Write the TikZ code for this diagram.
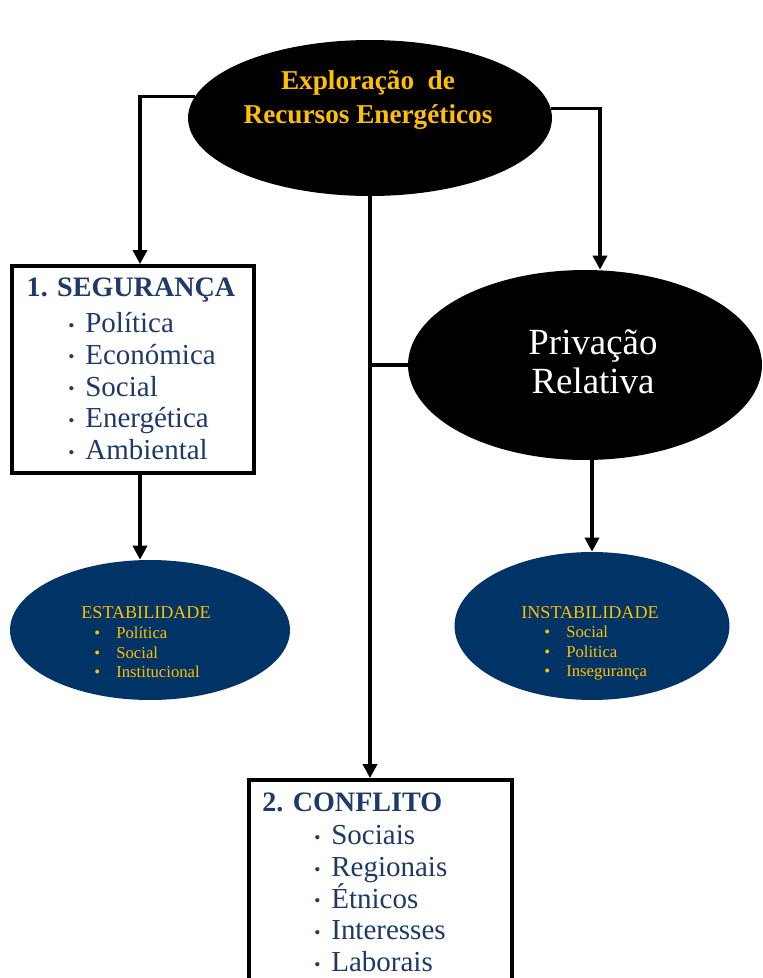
\documentclass[tikz,border=0pt]{standalone}
\usepackage{fontspec}
\setmainfont{Liberation Serif}
\usepackage{xcolor}
\usetikzlibrary{arrows.meta,shapes.geometric}
\definecolor{navy}{HTML}{003366}
\definecolor{navytext}{HTML}{1F3A66}
\definecolor{gold}{HTML}{FFC000}
\newcommand{\bigbul}{\makebox[0.34cm][l]{\raisebox{0.1ex}{\fontsize{10}{10}\selectfont\textbullet}}}
\newcommand{\smallbul}{\makebox[0.44cm][l]{\textbullet}}

\begin{document}
\begin{tikzpicture}[x=0.02cm,y=-0.02cm,
  arr/.style={line width=2.2pt,-{Triangle[length=8pt,width=8pt]}},
  link/.style={line width=2.2pt},
  blackell/.style={ellipse,fill=black,inner sep=0pt},
  navyell/.style={ellipse,fill=navy,inner sep=0pt},
  box/.style={draw,line width=2.2pt,fill=white,inner sep=0pt},
  boxtitle/.style={font=\fontsize{16}{18}\selectfont\bfseries,text=navytext,inner sep=0pt},
  boxlist/.style={font=\fontsize{16.5}{18.1}\selectfont,text=navytext,align=left,inner sep=0pt,anchor=north west},
  elltitle/.style={font=\fontsize{10.3}{11}\selectfont,text=gold,inner sep=0pt},
  elllist/.style={font=\fontsize{9.5}{11}\selectfont,text=gold,align=left,inner sep=0pt,anchor=north west}]
\useasboundingbox (0,0) rectangle (762,978);

% main nodes
\node[blackell,minimum width=7.28cm,minimum height=3.12cm] (top) at (370,118) {};
\node[font=\fontsize{15.5}{19}\selectfont\bfseries,text=gold,align=center] (toptext) at (368,100) {Exploração\enspace de\\Recursos Energéticos};

\node[box,minimum width=4.84cm,minimum height=4.14cm] (seg) at (133,369.5) {};
\node[boxtitle] (segtitle) at (131,290) {1. SEGURANÇA};
\node[boxlist] (seglist) at (68,312) {\bigbul Política\\\bigbul Económica\\\bigbul Social\\\bigbul Energética\\\bigbul Ambiental};

\node[blackell,minimum width=7.08cm,minimum height=3.8cm] (priv) at (585,365) {};
\node[font=\fontsize{21}{22}\selectfont,text=white,align=center] (privtext) at (593,362) {Privação\\Relativa};

\node[navyell,minimum width=5.6cm,minimum height=2.8cm] (estab) at (150,630) {};
\node[elltitle] (estabtitle) at (146,613) {ESTABILIDADE};
\node[elllist] (establist) at (94,627) {\smallbul Política\\\smallbul Social\\\smallbul Institucional};

\node[navyell,minimum width=5.5cm,minimum height=2.96cm] (instab) at (592,626) {};
\node[elltitle] (instabtitle) at (590,613) {INSTABILIDADE};
\node[elllist] (instablist) at (544,626) {\smallbul Social\\\smallbul Politica\\\smallbul Insegurança};

\node[box,minimum width=5.26cm,minimum height=4.3cm] (conf) at (380.5,887.5) {};
\node[boxtitle,anchor=west] (conftitle) at (262,802) {2. CONFLITO};
\node[boxlist] (conflist) at (314,825) {\bigbul Sociais\\\bigbul Regionais\\\bigbul Étnicos\\\bigbul Interesses\\\bigbul Laborais};

% connectors
\coordinate (lcol) at (140,0);
\draw[arr] (top.173.5) -| (lcol |- seg.north);
\draw[arr] (top.3.8) -| ([xshift=0.3cm]priv.north);
\draw[arr] (top.south) -- (top.south |- conf.north);
\draw[link] (priv.west) -- (priv.west -| top.south);
\draw[arr] (lcol |- seg.south) -- (lcol |- estab.north);
\draw[arr] (instab.north |- priv.south) -- (instab.north);
\end{tikzpicture}
\end{document}
